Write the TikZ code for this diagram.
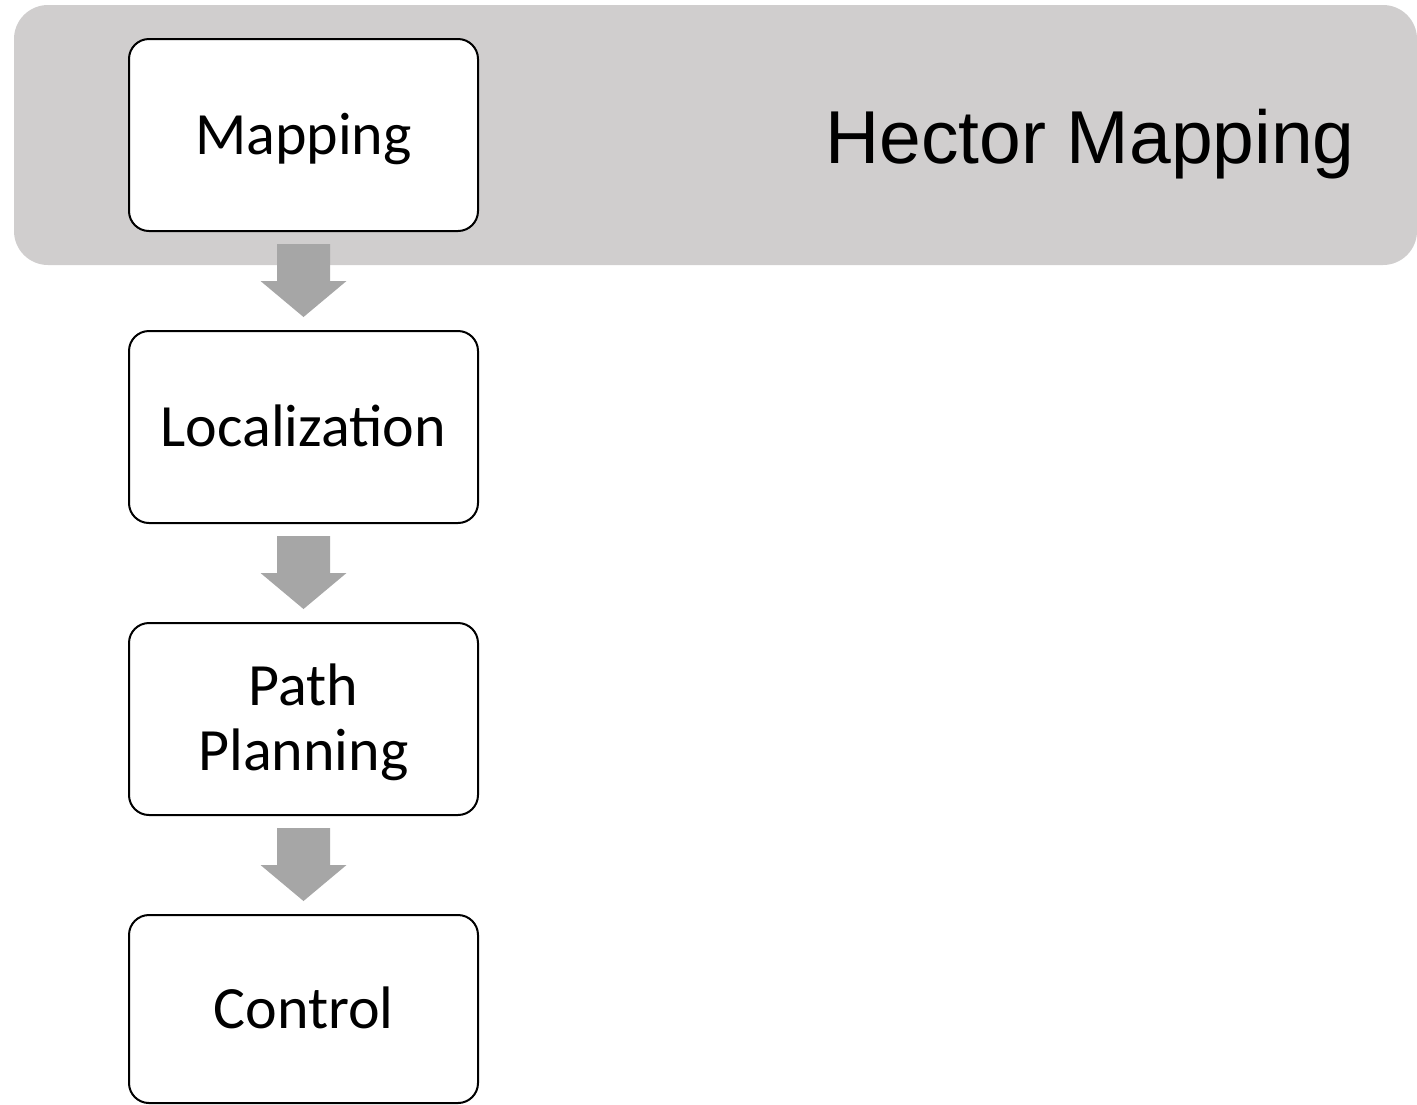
\documentclass[tikz,border=0pt]{standalone}
\usepackage{fontspec}
\setmainfont{Carlito}
\newfontfamily\titlefont{Liberation Sans}
\usetikzlibrary{positioning, calc}

\definecolor{bandgray}{HTML}{D0CECE}
\definecolor{arrowgray}{HTML}{A6A6A6}

\tikzset{
  stagebox/.style={draw=black, line width=1pt, rounded corners=10pt, fill=white,
    minimum width=174.5pt, minimum height=96pt, inner sep=0pt, align=center,
    text height=19.3pt, text depth=0pt, font=\fontsize{30}{32.5}\selectfont},
  stagearrow/.style={fill=arrowgray},
}

\begin{document}
\begin{tikzpicture}[node distance=49pt]

\useasboundingbox (0,0) rectangle (708.5pt,-552pt);

%% Hintergrund Hector %%%%%%%%%%%%%%%%%%%%%%%
\fill[bandgray, rounded corners=17pt] (7pt,-2.5pt) rectangle (708.5pt,-132.5pt);

\node[font=\titlefont\fontsize{37.5}{40}\selectfont, text height=26.9pt, text depth=0pt,
  inner sep=0pt] (title) at (545pt,-68.5pt) {Hector Mapping};

%% Stufen %%%%%%%%%%%%%%%%%%%%%%%
\node[stagebox] (map) at (151.75pt,-67.5pt) {Mapping};
\node[stagebox, below=of map] (loc) {Localization};
\node[stagebox, below=of loc, text height=51.8pt] (plan) {Path\\Planning};
\node[stagebox, below=of plan, minimum height=94pt] (ctrl) {Control};

%% Pfeile
\foreach \a/\b in {map/loc, loc/plan, plan/ctrl}{
  \fill[stagearrow] ($(\a.south)+(-13.25pt,-6pt)$) -- ($(\a.south)+(13.25pt,-6pt)$)
    -- ($(\b.north)+(13.25pt,24.5pt)$) -- ($(\b.north)+(21.5pt,24.5pt)$)
    -- ($(\b.north)+(0,6.5pt)$) -- ($(\b.north)+(-21.5pt,24.5pt)$)
    -- ($(\b.north)+(-13.25pt,24.5pt)$) -- cycle;
}

\end{tikzpicture}
\end{document}
